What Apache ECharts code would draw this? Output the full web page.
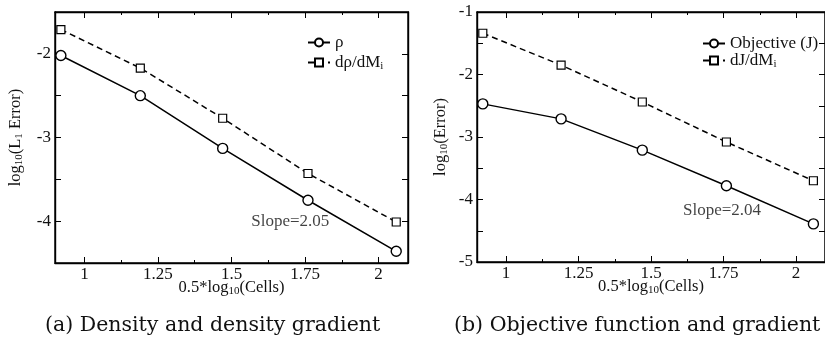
<!DOCTYPE html>
<html>
<head>
<meta charset="utf-8">
<script src="https://cdn.jsdelivr.net/npm/echarts@6/dist/echarts.min.js"></script>
<style>
html,body{margin:0;padding:0;background:#fff;}
#c{width:825px;height:339px;}
</style>
</head>
<body>
<div id="c"></div>
<script>
// ---- data ----
const cellsA = [0.92, 1.19, 1.47, 1.76, 2.06];
const rhoErr = [-2.02, -2.50, -3.13, -3.75, -4.36];
const dRhoErr = [-1.71, -2.17, -2.77, -3.43, -4.01];

const cellsB = [0.92, 1.19, 1.47, 1.76, 2.06];
const objErr = [-2.47, -2.71, -3.21, -3.78, -4.39];
const dObjErr = [-1.34, -1.85, -2.44, -3.08, -3.70];

const xTicks = [1, 1.25, 1.5, 1.75, 2];
const xMinorTicks = [1.125, 1.375, 1.625, 1.875];
const slopeA = { x: 1.70, y: -4.0, text: 'Slope=2.05' };
const slopeB = { x: 1.745, y: -4.18, text: 'Slope=2.04' };
const captionA = '(a) Density and density gradient';
const captionB = '(b) Objective function and gradient';

const zip = (xs, ys) => xs.map((x, i) => [x, ys[i]]);

const serif = 'Liberation Serif';
const ink = '#111';
const sub = { fontSize: 11, fontFamily: serif, color: ink, padding: [8, 0, 0, 0] };
const base = { fontSize: 16.5, fontFamily: serif, color: ink };

function xAxes(grid) {
  const common = {
    type: 'value', gridIndex: grid, min: 0.9, max: 2.1,
    splitLine: { show: false },
    axisLine: { lineStyle: { color: '#000', width: 1.4 } },
    axisTick: { inside: true, length: 6, customValues: xTicks, lineStyle: { color: '#000' } }
  };
  const minor = {
    type: 'value', gridIndex: grid, min: 0.9, max: 2.1,
    splitLine: { show: false }, axisLine: { show: false }, axisLabel: { show: false },
    axisTick: { inside: true, length: 3, customValues: xMinorTicks, lineStyle: { color: '#000' } }
  };
  return [
    Object.assign({}, common, {
      position: 'bottom',
      axisLabel: { customValues: xTicks, margin: 3, fontSize: 17, fontFamily: serif, color: ink },
      name: '{a|0.5*log}{s|10}{a|(Cells)}',
      nameLocation: 'middle', nameGap: 15, nameMoveOverlap: false,
      nameTextStyle: { rich: { a: base, s: sub } }
    }),
    Object.assign({}, common, { position: 'top', axisLabel: { show: false } }),
    Object.assign({}, minor, { position: 'bottom' }),
    Object.assign({}, minor, { position: 'top' })
  ];
}

function yAxes(grid, mn, mx, nm, gap) {
  const common = {
    type: 'value', gridIndex: grid, min: mn, max: mx, interval: 0.5,
    splitLine: { show: false },
    axisLine: { lineStyle: { color: '#000', width: 1.4 } },
    axisTick: { inside: true, length: 6, lineStyle: { color: '#000' } }
  };
  return [
    Object.assign({}, common, {
      position: 'left',
      axisLabel: {
        margin: 4, fontSize: 17, fontFamily: serif, color: ink,
        formatter: v => Number.isInteger(v) ? String(v) : ''
      },
      name: nm, nameLocation: 'middle', nameGap: gap, nameRotate: 90, nameMoveOverlap: false,
      nameTextStyle: { rich: { a: base, s: sub } }
    }),
    Object.assign({}, common, { position: 'right', axisLabel: { show: false } })
  ];
}

const circ = { symbol: 'circle', symbolSize: 10, itemStyle: { color: '#fff', borderColor: '#000', borderWidth: 1.4 } };
const sq = { symbol: 'rect', symbolSize: 8, itemStyle: { color: '#fff', borderColor: '#000', borderWidth: 1.2 } };

function lineSeries(name, xi, yi, data, marker, dashed) {
  return Object.assign({
    name, type: 'line', xAxisIndex: xi, yAxisIndex: yi, data,
    lineStyle: { color: '#000', width: 1.5, type: dashed ? [6, 4] : 'solid' },
    z: 3, animation: false
  }, marker);
}

function slopeSeries(xi, yi, s) {
  return {
    type: 'scatter', xAxisIndex: xi, yAxisIndex: yi, data: [[s.x, s.y]],
    symbolSize: 0, silent: true, animation: false,
    label: { show: true, position: 'inside', formatter: s.text, fontSize: 17, fontFamily: serif, color: ink }
  };
}

const legendRich = { a: { fontSize: 17, fontFamily: serif, color: ink }, s: sub };
const legendFmt = n => {
  if (n === 'dρ/dMi') return '{a|dρ/dM}{s|i}';
  if (n === 'dJ/dMi') return '{a|dJ/dM}{s|i}';
  return '{a|' + n + '}';
};

const capStyle = { fontFamily: 'DejaVu Serif', fontWeight: 'normal', fontSize: 20.5, color: ink };

const option = {
  backgroundColor: '#fff',
  animation: false,
  title: [
    { text: captionA, left: 40, top: 310, textStyle: capStyle },
    { text: captionB, left: 449, top: 310, textStyle: capStyle }
  ],
  grid: [
    { left: 55, top: 12, width: 353, height: 251, show: true, borderColor: '#000', borderWidth: 1.4 },
    { left: 477, top: 12, width: 355, height: 250, show: true, borderColor: '#000', borderWidth: 1.4 }
  ],
  legend: [
    { data: ['ρ', 'dρ/dMi'], left: 302, top: 29, orient: 'vertical', itemGap: 3, itemWidth: 22, itemHeight: 10,
      formatter: legendFmt, textStyle: { rich: legendRich } },
    { data: ['Objective (J)', 'dJ/dMi'], left: 697, top: 30, orient: 'vertical', itemGap: 0, itemWidth: 22, itemHeight: 10,
      formatter: legendFmt, textStyle: { rich: legendRich } }
  ],
  xAxis: [...xAxes(0), ...xAxes(1)],
  yAxis: [
    ...yAxes(0, -4.5, -1.5, '{a|log}{s|10}{a|(L}{s|1}{a| Error)}', 30),
    ...yAxes(1, -5, -1, '{a|log}{s|10}{a|(Error)}', 27)
  ],
  series: [
    lineSeries('ρ', 0, 0, zip(cellsA, rhoErr), circ, false),
    lineSeries('dρ/dMi', 0, 0, zip(cellsA, dRhoErr), sq, true),
    slopeSeries(0, 0, slopeA),
    lineSeries('Objective (J)', 4, 2, zip(cellsB, objErr), circ, false),
    lineSeries('dJ/dMi', 4, 2, zip(cellsB, dObjErr), sq, true),
    slopeSeries(4, 2, slopeB)
  ]
};

const chart = echarts.init(document.getElementById('c'), null, { renderer: 'canvas' });
chart.setOption(option);
</script>
</body>
</html>
